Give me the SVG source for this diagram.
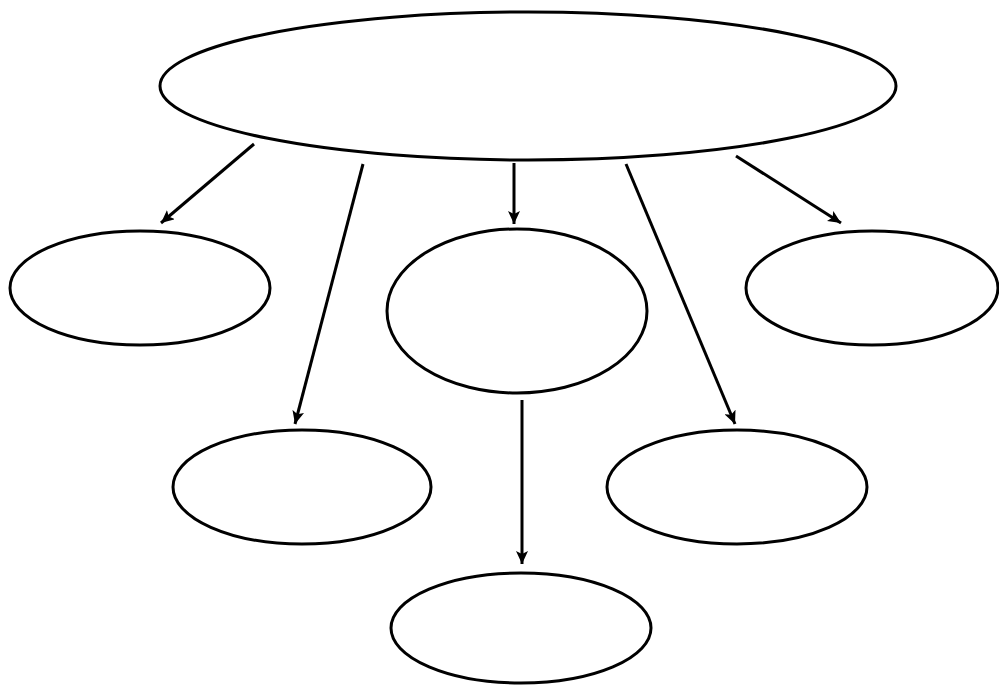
<svg xmlns="http://www.w3.org/2000/svg" width="999" height="686" viewBox="0 0 999 686">
<defs>
<style>
.node{fill:#fff;stroke:#000;stroke-width:3}
.edge{stroke:#000;stroke-width:3;fill:none;marker-end:url(#arr)}
</style>
<marker id="arr" markerUnits="userSpaceOnUse" markerWidth="14" markerHeight="12" refX="13" refY="6" orient="auto">
<path d="M0,0 L13,6 L0,12 L3,6 Z" fill="#000"/>
</marker>
</defs>
<rect width="999" height="686" fill="#fff"/>
<g id="connectors">
<line class="edge" x1="254" y1="144" x2="161" y2="223"/>
<line class="edge" x1="363" y1="164" x2="295" y2="424"/>
<line class="edge" x1="514" y1="163" x2="514" y2="224"/>
<line class="edge" x1="626" y1="164" x2="735" y2="424"/>
<line class="edge" x1="736" y1="156" x2="841" y2="223"/>
<line class="edge" x1="522" y1="400" x2="522" y2="564"/>
</g>
<g id="top"><ellipse class="node" cx="528" cy="86" rx="368" ry="74"/></g>
<g id="left"><ellipse class="node" cx="140" cy="288" rx="130" ry="57"/></g>
<g id="center"><ellipse class="node" cx="517" cy="311" rx="130" ry="82"/></g>
<g id="right"><ellipse class="node" cx="872" cy="288" rx="126" ry="57"/></g>
<g id="bottom-left"><ellipse class="node" cx="302" cy="487" rx="129" ry="57"/></g>
<g id="bottom-right"><ellipse class="node" cx="737" cy="487" rx="130" ry="57"/></g>
<g id="bottom"><ellipse class="node" cx="521" cy="628" rx="130" ry="55"/></g>
</svg>
